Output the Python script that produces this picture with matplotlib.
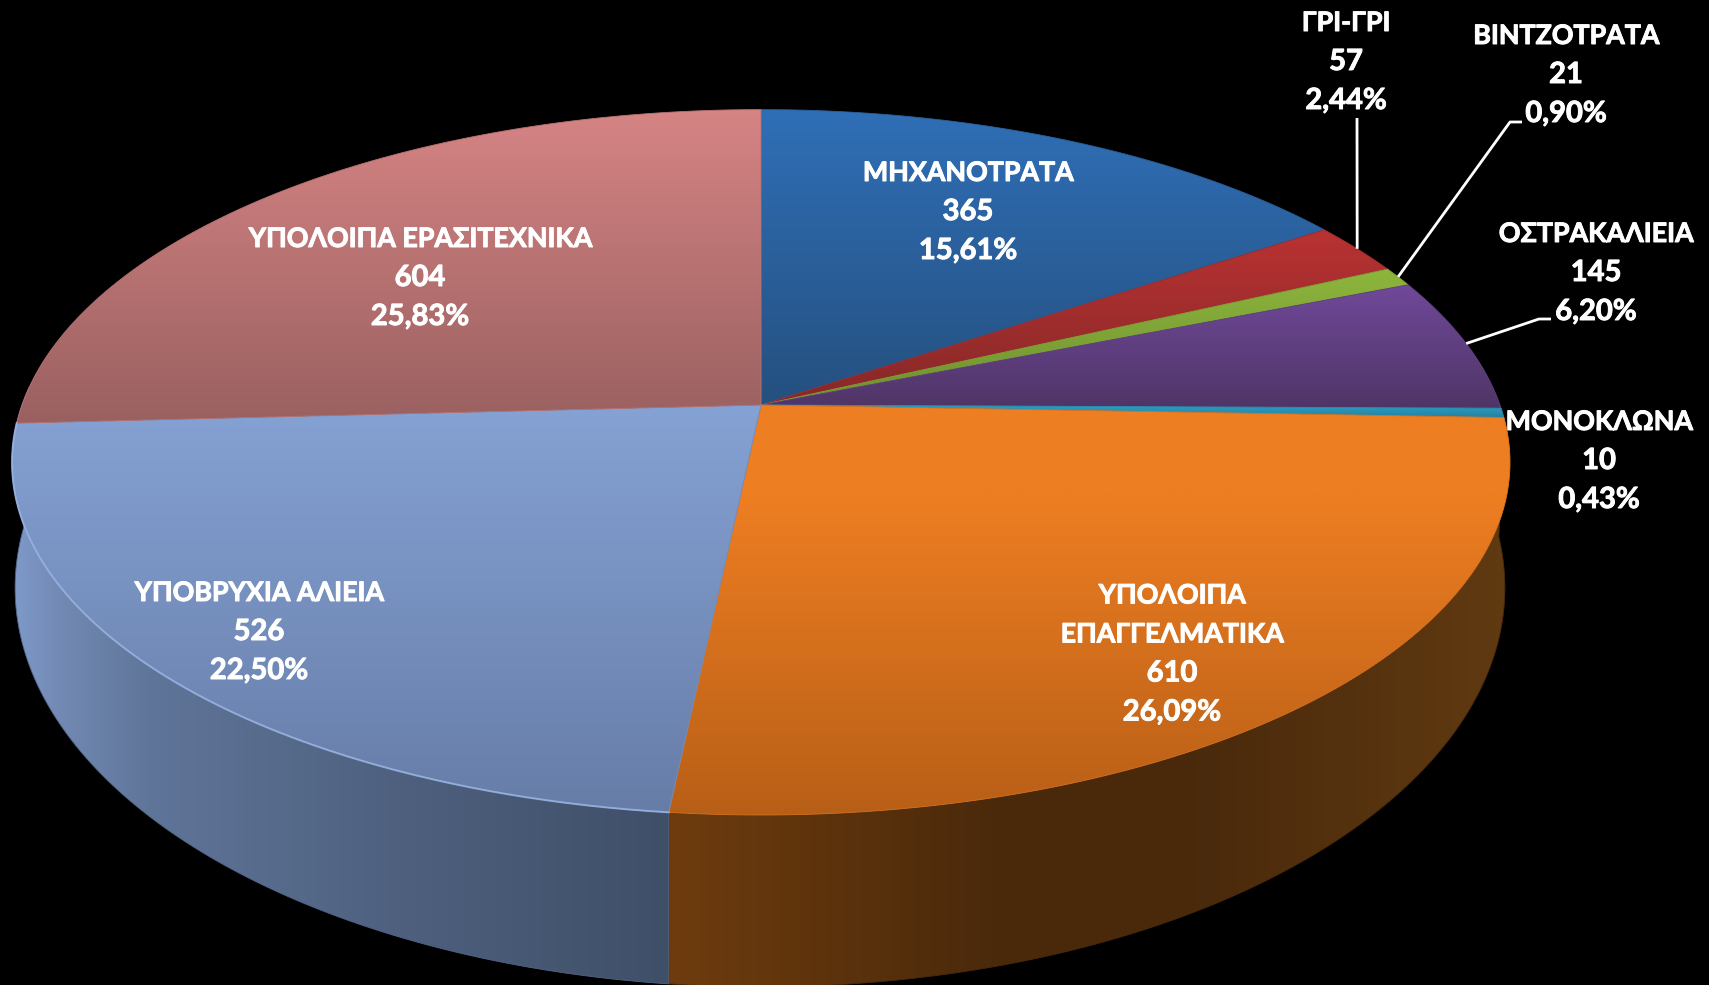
#!/usr/bin/env python3

import numpy as np
import matplotlib
matplotlib.use("Agg")
import matplotlib.pyplot as plt
import matplotlib.patheffects as pe
from matplotlib.path import Path
from matplotlib.colors import to_rgb

# Data
categories = ["ΜΗΧΑΝΟΤΡΑΤΑ", "ΓΡΙ-ΓΡΙ", "ΒΙΝΤΖΟΤΡΑΤΑ", "ΟΣΤΡΑΚΑΛΙΕΙΑ", "ΜΟΝΟΚΛΩΝΑ",
              "ΥΠΟΛΟΙΠΑ\nΕΠΑΓΓΕΛΜΑΤΙΚΑ", "ΥΠΟΒΡΥΧΙΑ ΑΛΙΕΙΑ", "ΥΠΟΛΟΙΠΑ ΕΡΑΣΙΤΕΧΝΙΚΑ"]
values = [365, 57, 21, 145, 10, 610, 526, 604]

# Vertical gradient of each slice, top colour then bottom colour
top_colors = ["#2F6FB7", "#BA3232", "#8DB63D", "#70499A", "#2B9FC4", "#EE7E22", "#85A2D4", "#D68484"]
bottom_colors = ["#25507F", "#862828", "#6F8F30", "#4F3566", "#24809E", "#B85F17", "#677DA8", "#9A6060"]

# Label centres and leader elbows in picture pixels
label_pos = [(968, 210), (1346, 60), (1566, 73), (1596, 271), (1599, 459), (1172, 652), (259, 630), (420, 276)]
leaders = {1: [(1357, 118)], 2: [(1522, 122), (1510, 122)], 3: [(1551, 319), (1539, 319)]}
line_pitch = 39

# Perspective of the disc
k = 0.1625
top_disc = dict(cx=761, cy=405, rx=739, ry=343.4)
bottom_disc = dict(cx=760, cy=523, rx=735, ry=388.5)


def project(disc, deg):
    a = np.radians(deg)
    u, v = np.sin(a), np.cos(a)
    d = 1 + k * v
    return disc["cx"] + disc["rx"] * u / d, disc["cy"] - disc["ry"] * v / d


def arc(disc, start, end):
    n = max(int(abs(end - start) * 3), 2)
    x, y = project(disc, np.linspace(start, end, n))
    return np.column_stack([x, y])


def gradient(ax, verts, stops, horizontal=False):
    # stops: list of (position in px, colour)
    path = Path(np.vstack([verts, verts[0]]), closed=True)
    x0, y0 = verts.min(axis=0)
    x1, y1 = verts.max(axis=0)
    lo, hi = (x0, x1) if horizontal else (y0, y1)
    t = np.linspace(lo, hi, 300)
    pos = [s[0] for s in stops]
    cols = np.array([to_rgb(s[1]) for s in stops])
    rgb = np.column_stack([np.interp(t, pos, cols[:, i]) for i in range(3)])
    img = rgb[None, :, :] if horizontal else rgb[:, None, :]
    im = ax.imshow(img, extent=(x0, x1, y1, y0), aspect="auto", interpolation="bilinear", zorder=2)
    im.set_clip_path(path, ax.transData)
    # thin outline to soften the clip edge
    ax.fill(verts[:, 0], verts[:, 1], fc="none", ec=(*rgb[len(rgb) // 2],), lw=0.6, zorder=2)


plt.rcParams["font.family"] = ["Lato", "Open Sans", "DejaVu Sans"]

fig = plt.figure(figsize=(17.09, 9.85), dpi=100, facecolor="black")
ax = fig.add_axes([0, 0, 1, 1])
ax.set_facecolor("black")

total = sum(values)
edges = np.concatenate([[0], np.cumsum(values)]) / total * 360

# Sides of the two slices that face the viewer
orange_start, orange_end = edges[5], edges[6]
blue_end = edges[7]

side = np.vstack([arc(top_disc, orange_start, orange_end), arc(bottom_disc, orange_end, orange_start)])
gradient(ax, side, [(670, "#6E3C0E"), (1000, "#4A290B"), (1200, "#4A2A0C"), (1510, "#603A11")], horizontal=True)

side = np.vstack([arc(top_disc, orange_end, blue_end + 6), arc(bottom_disc, blue_end + 6, orange_end)])
gradient(ax, side, [(12, "#7F9ACA"), (60, "#7289B3"), (150, "#5F7599"), (400, "#4E607E"), (670, "#3F4F68")], horizontal=True)

# Top face
for i in range(len(values)):
    verts = np.vstack([arc(top_disc, edges[i], edges[i + 1]), [[top_disc["cx"], top_disc["cy"]]]])
    lo, hi = verts[:, 1].min(), verts[:, 1].max()
    stops = [(lo, top_colors[i]), (hi, bottom_colors[i])]
    if i == 5:
        # the orange stays saturated for the first part of its height
        stops = [(lo, top_colors[i]), (lo + 90, top_colors[i]), (hi, bottom_colors[i])]
    gradient(ax, verts, stops)

# Rim highlight along the front of the blue slice
rim = arc(top_disc, orange_end, blue_end)
ax.plot(rim[:, 0], rim[:, 1], color="#9DB8E6", lw=1.4, alpha=0.8, zorder=3)

# Leader lines run from the label elbows to the rim at the middle of the slice
for i, pts in leaders.items():
    x, y = project(top_disc, (edges[i] + edges[i + 1]) / 2)
    line = np.array(pts + [(x, y)])
    ax.plot(line[:, 0], line[:, 1], color="white", lw=2, solid_capstyle="butt", zorder=4)

# Each label line is its own text so the Greek can be set a little narrower than the digits
heavy = [pe.withStroke(linewidth=0.7, foreground="white")]
for i, name in enumerate(categories):
    pct = f"{values[i] / total * 100:.2f}".replace(".", ",") + "%"
    rows = name.split("\n") + [str(values[i]), pct]
    for j, row in enumerate(rows):
        size = 19.3 if j < len(rows) - 2 else 21
        y = label_pos[i][1] + (j - (len(rows) - 1) / 2) * line_pitch + 10
        ax.text(label_pos[i][0], y, row, color="white", fontsize=size, fontweight="bold",
                ha="center", va="baseline", zorder=5, path_effects=heavy)

ax.set_xlim(0, 1709)
ax.set_ylim(985, 0)
ax.axis("off")

fig.savefig("out.png", dpi=100, facecolor="black")
